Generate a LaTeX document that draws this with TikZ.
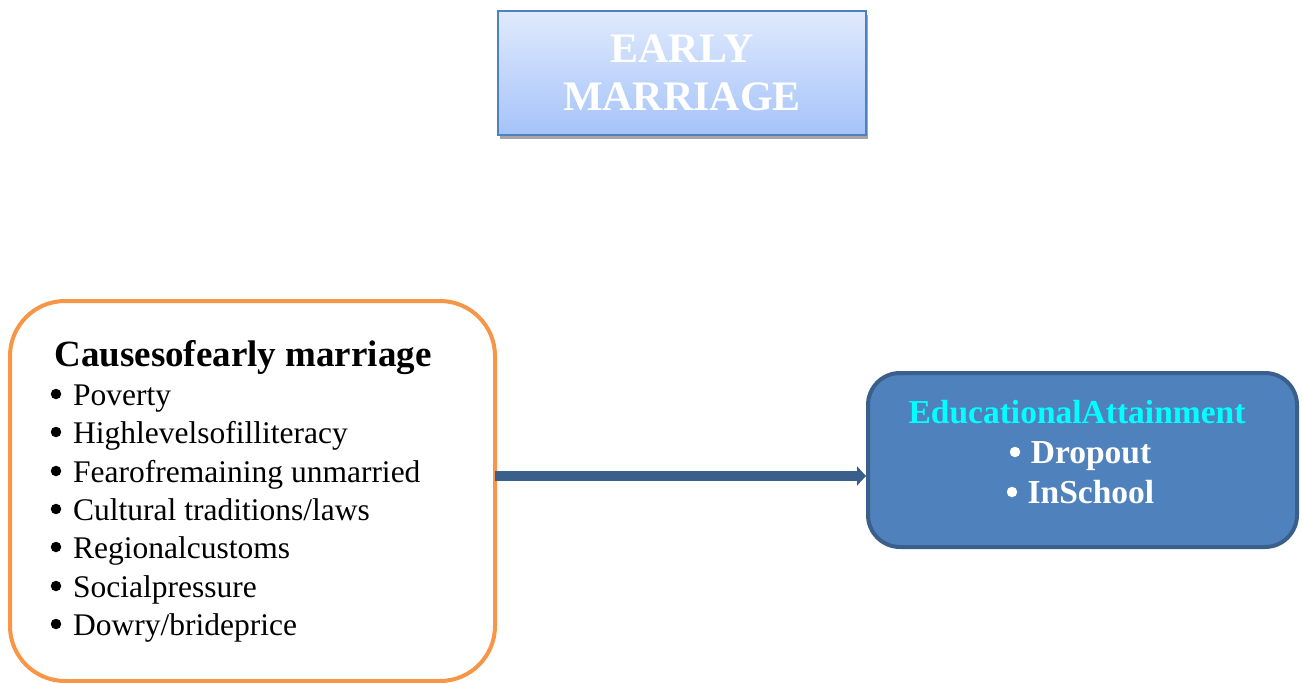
\documentclass[tikz,border=0pt]{standalone}
\usepackage{fontspec}
\setmainfont{Liberation Serif}
\usetikzlibrary{arrows.meta,shadows}
\definecolor{orangeb}{HTML}{F79646}
\definecolor{blueb}{HTML}{4F81BD}
\definecolor{blued}{HTML}{3A5F8B}
\definecolor{topc}{HTML}{E0EAFD}
\definecolor{botc}{HTML}{A5C3F9}
\definecolor{cyanh}{HTML}{00FFFF}
\begin{document}
\begin{tikzpicture}[x=1pt,y=-1pt,
  itemtxt/.style={anchor=base west,inner sep=0pt,font=\fontsize{31.5}{38}\selectfont},
  bul/.style={circle,fill=black,inner sep=0pt,minimum size=10.5pt},
  wtxt/.style={inner sep=0pt,anchor=base,text=white,font=\bfseries\fontsize{33.5}{39}\selectfont},
]
\useasboundingbox (0,0) rectangle (1302,683);
% top box
\node[draw=blueb,line width=2.5pt,top color=topc,bottom color=botc,minimum width=368pt,minimum height=124pt,inner sep=0pt,
  drop shadow={shadow xshift=2pt,shadow yshift=-4pt,fill=gray!70,opacity=1}] (top) at (682,73) {};
\node[inner sep=0pt,anchor=base,text=white,font=\bfseries\fontsize{42}{48}\selectfont] (t1) at (682,62) {EARLY};
\node[inner sep=0pt,anchor=base,text=white,font=\bfseries\fontsize{42}{48}\selectfont] (t2) at (682,110) {MARRIAGE};
% left box
\node[draw=orangeb,line width=4pt,fill=white,rounded corners=55pt,minimum width=485pt,minimum height=380pt,inner sep=0pt] (causes) at (252.5,491) {};
\node[inner sep=0pt,anchor=base,font=\bfseries\fontsize{37}{44}\selectfont] (ch) at (243,366) {Causesofearly marriage};
\foreach \i/\t/\y in {1/Poverty/405,2/Highlevelsofilliteracy/443,3/Fearofremaining unmarried/482,4/Cultural traditions\slash laws/520,5/Regionalcustoms/558,6/Socialpressure/597,7/Dowry\slash brideprice/635}{
  \node[bul] (b\i) at (56,\y-11) {};
  \node[itemtxt] (c\i) at (73,\y) {\t};
}
% right box
\node[draw=blued,line width=4pt,fill=blueb,rounded corners=32pt,minimum width=429pt,minimum height=174pt,inner sep=0pt] (edu) at (1082.5,460) {};
\node[wtxt,text=cyanh] (eh) at (1077,423) {EducationalAttainment};
\node[wtxt] (e1) at (1091,463) {Dropout};
\node[bul,fill=white] (eb1) at (1015,452) {};
\node[wtxt] (e2) at (1091,503) {InSchool};
\node[bul,fill=white] (eb2) at (1012,492) {};
% arrow
\coordinate (a1) at (495,476);
\draw[blued,line width=10pt,-{Triangle[length=9pt,width=19pt]}] (a1) -- (a1 -| edu.west);
\end{tikzpicture}
\end{document}
